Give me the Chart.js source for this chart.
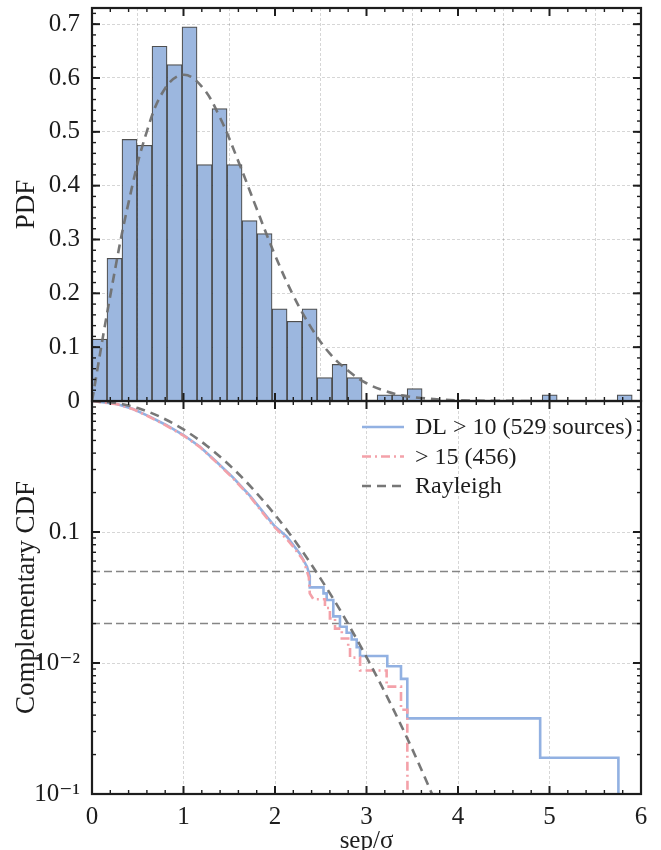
<!DOCTYPE html>
<html lang="en">
<head>
  <meta charset="UTF-8" />
  <title>Separation distribution</title>
  <script src="https://cdn.jsdelivr.net/npm/chart.js"></script>
  <style>
    body { margin: 0; background: #fff; }
    #wrap { position: relative; width: 661px; height: 850px; }
    canvas { position: absolute; left: 0; }
    #pdfChart { top: 0; z-index: 2; }
    #cdfChart { top: 381px; z-index: 1; }
  </style>
</head>
<body>
  <div id="wrap">
    <canvas id="pdfChart" width="661" height="420"></canvas>
    <canvas id="cdfChart" width="661" height="469"></canvas>
  </div>

  <script>
    // ---- data ----
    const xTicks = [0, 1, 2, 3, 4, 5, 6];
    const pdfTicks = [0, 0.1, 0.2, 0.3, 0.4, 0.5, 0.6, 0.7];
    const pdfTickLabels = ['0', '0.1', '0.2', '0.3', '0.4', '0.5', '0.6', '0.7'];
    const cdfTicks = [0.001, 0.01, 0.1, 1];
    const cdfTickLabels = ['10\u207B\u00B9', '10\u207B\u00B2', '0.1', ''];

    // histogram (36 bins of width 0.164 starting at 0)
    const binWidth = 0.164;
    const pdfValues = [0.115, 0.265, 0.486, 0.475, 0.659, 0.625, 0.695, 0.439, 0.543, 0.439,
                       0.335, 0.311, 0.171, 0.148, 0.171, 0.0435, 0.068, 0.0435, 0, 0.0115,
                       0.0115, 0.023, 0, 0, 0, 0, 0, 0, 0, 0,
                       0.0115, 0, 0, 0, 0, 0.0115];

    // Rayleigh curves
    const rayPdfX = [0, 0.2, 0.4, 0.6, 0.8, 1.0, 1.2, 1.4, 1.6, 1.8, 2.0, 2.2, 2.4, 2.6, 2.8, 3.0, 3.2, 3.4, 3.6, 3.8, 4.0, 4.4, 4.8];
    const rayPdfY = [0, 0.196, 0.369, 0.501, 0.581, 0.606, 0.584, 0.526, 0.445, 0.357, 0.271, 0.196, 0.135, 0.088, 0.056, 0.033, 0.019, 0.010, 0.0055, 0.0028, 0.0013, 0.0003, 0.0001];
    const rayCdfX = [0, 0.25, 0.5, 0.75, 1, 1.25, 1.5, 1.75, 2, 2.25, 2.5, 2.75, 3, 3.25, 3.5, 3.75, 4];
    const rayCdfY = [1, 0.969, 0.8825, 0.7548, 0.6065, 0.458, 0.3247, 0.2163, 0.1353, 0.0796, 0.0439, 0.0228, 0.0111, 0.0051, 0.0022, 0.00088, 0.00034];

    // complementary CDF, DL > 10
    const dl10X = [0, 0.27, 0.45, 0.63, 0.81, 1.0, 1.18, 1.36, 1.54, 1.73, 1.91, 2.0, 2.13, 2.27, 2.35,
                   2.38, 2.38, 2.53, 2.53, 2.565, 2.565, 2.637, 2.637, 2.71, 2.71, 2.783, 2.783, 2.838, 2.838,
                   2.893, 2.893, 2.929, 2.929, 3.227, 3.227, 3.377, 3.377, 3.446, 3.446, 4.898, 4.898, 5.753, 5.753];
    const dl10Y = [1, 0.949, 0.869, 0.76, 0.656, 0.55, 0.448, 0.344, 0.261, 0.188, 0.131, 0.11, 0.092, 0.0687, 0.0543,
                   0.046, 0.0378, 0.0378, 0.034, 0.034, 0.0303, 0.0303, 0.0227, 0.0227, 0.0189, 0.0189, 0.017, 0.017, 0.0151,
                   0.0151, 0.0132, 0.0132, 0.0113, 0.0113, 0.00945, 0.00945, 0.00756, 0.00756, 0.00378, 0.00378, 0.00189, 0.00189, 0.0005];

    // complementary CDF, DL > 15
    const dl15X = [0, 0.27, 0.45, 0.63, 0.81, 1.0, 1.18, 1.36, 1.54, 1.73, 1.91, 2.0, 2.13, 2.2, 2.31, 2.346,
                   2.37, 2.38, 2.42, 2.546, 2.546, 2.60, 2.60, 2.656, 2.656, 2.73, 2.73, 2.80, 2.80, 2.82, 2.82,
                   2.93, 2.93, 3.22, 3.22, 3.377, 3.377, 3.446, 3.446, 3.45];
    const dl15Y = [1, 0.947, 0.866, 0.755, 0.65, 0.545, 0.445, 0.34, 0.258, 0.185, 0.128, 0.108, 0.088, 0.077, 0.061, 0.051,
                   0.045, 0.034, 0.0307, 0.0307, 0.0263, 0.0263, 0.0219, 0.0219, 0.0183, 0.0183, 0.0154, 0.0154, 0.0132, 0.0132, 0.011,
                   0.011, 0.00877, 0.00877, 0.0066, 0.0066, 0.0044, 0.0044, 0.0022, 0.0005];

    const thresholds = [0.05, 0.02];

    // ---- styling helpers ----
    const serif = "'Liberation Serif', 'DejaVu Serif', serif";
    const ink = '#1d1d1d';
    const gridColor = 'rgba(0,0,0,0.16)';

    const pts = (xs, ys) => xs.map((x, i) => ({ x: x, y: ys[i] }));

    function fixedTicks(values) {
      return scale => { scale.ticks = values.map(v => ({ value: v })); };
    }

    // frame + inward ticks on all four sides
    const frameTicks = {
      id: 'frameTicks',
      afterDraw(chart, args, opts) {
        const { ctx, chartArea: a, scales } = chart;
        const x = scales.x, y = scales.y;
        ctx.save();
        ctx.strokeStyle = ink;
        const seg = (x1, y1, x2, y2) => { ctx.beginPath(); ctx.moveTo(x1, y1); ctx.lineTo(x2, y2); ctx.stroke(); };
        const drawX = (vals, len, w) => {
          ctx.lineWidth = w;
          vals.forEach(v => {
            const p = x.getPixelForValue(v);
            if (p < a.left - 0.5 || p > a.right + 0.5) return;
            seg(p, a.bottom, p, a.bottom - len);
            seg(p, a.top, p, a.top + len);
          });
        };
        const drawY = (vals, len, w) => {
          ctx.lineWidth = w;
          vals.forEach(v => {
            const p = y.getPixelForValue(v);
            if (p < a.top - 0.5 || p > a.bottom + 0.5) return;
            seg(a.left, p, a.left + len, p);
            seg(a.right, p, a.right - len, p);
          });
        };
        drawX(opts.xMinor, 4, 1.4);
        drawX(xTicks, 8, 2);
        drawY(opts.yMinor, 4, 1.4);
        drawY(opts.yMajor, 8, 2);
        ctx.lineWidth = 2.2;
        ctx.strokeRect(a.left, a.top, a.right - a.left, a.bottom - a.top);
        ctx.restore();
      }
    };

    // legend drawn inside the plot area, top right
    const innerLegend = {
      id: 'innerLegend',
      afterDatasetsDraw(chart) {
        const { ctx, chartArea: a } = chart;
        const items = chart.data.datasets.filter(d => d.label);
        ctx.save();
        items.forEach((d, i) => {
          const yy = a.top + 26 + i * 29.5;
          const x0 = a.right - 279;
          ctx.strokeStyle = d.borderColor;
          ctx.lineWidth = d.borderWidth;
          ctx.setLineDash(d.borderDash || []);
          ctx.beginPath();
          ctx.moveTo(x0, yy);
          ctx.lineTo(x0 + 42, yy);
          ctx.stroke();
          ctx.setLineDash([]);
          ctx.fillStyle = ink;
          ctx.font = '24px ' + serif;
          ctx.textBaseline = 'middle';
          ctx.fillText(d.label, x0 + 53, yy + 1);
        });
        ctx.restore();
      }
    };

    const xMinor = [];
    for (let v = 0; v <= 6.001; v += 0.2) {
      if (Math.abs(v - Math.round(v)) > 0.01) xMinor.push(v);
    }
    const pdfMinor = [];
    for (let v = 0; v <= 0.73; v += 0.02) pdfMinor.push(v);
    const cdfMinor = [];
    [0.001, 0.01, 0.1].forEach(d => { for (let k = 2; k <= 9; k++) cdfMinor.push(k * d); });

    // ---- top panel: PDF ----
    new Chart(document.getElementById('pdfChart'), {
      data: {
        datasets: [
          {
            type: 'bar',
            data: pdfValues.map((v, i) => ({ x: (i + 0.5) * binWidth, y: v })),
            backgroundColor: '#9cb7df',
            borderColor: 'rgba(35,35,35,0.8)',
            borderWidth: 1.2,
            barPercentage: 1,
            categoryPercentage: 1,
            order: 2
          },
          {
            type: 'line',
            data: pts(rayPdfX, rayPdfY),
            borderColor: 'rgba(112,112,112,0.95)',
            borderWidth: 2.6,
            borderDash: [9, 6],
            pointRadius: 0,
            tension: 0.4,
            order: 1
          }
        ]
      },
      options: {
        responsive: false,
        animation: false,
        layout: { padding: { top: 8, right: 20, bottom: 19, left: 0 } },
        plugins: {
          legend: { display: false },
          tooltip: { enabled: false },
          frameTicks: { xMinor: xMinor, yMinor: pdfMinor, yMajor: pdfTicks }
        },
        scales: {
          x: {
            type: 'linear',
            min: 0,
            max: 6,
            offset: false,
            afterBuildTicks: fixedTicks(xTicks),
            ticks: { display: false },
            grid: { color: gridColor, drawTicks: false },
            border: { display: false, dash: [3, 2] },
            afterFit: s => { s.height = 0; s.paddingLeft = 0; s.paddingRight = 0; }
          },
          y: {
            min: 0,
            max: 0.73,
            afterBuildTicks: fixedTicks(pdfTicks),
            ticks: {
              color: ink,
              padding: 12,
              font: { family: serif, size: 25 },
              callback: (v, i) => pdfTickLabels[i]
            },
            grid: { color: gridColor, drawTicks: false },
            border: { display: false, dash: [3, 2] },
            title: { display: true, text: 'PDF', color: ink, font: { family: serif, size: 27 }, padding: { top: 11, bottom: 0 } },
            afterFit: s => { s.width = 92; s.paddingTop = 0; s.paddingBottom = 0; }
          }
        }
      },
      plugins: [frameTicks]
    });

    // ---- bottom panel: complementary CDF ----
    new Chart(document.getElementById('cdfChart'), {
      type: 'line',
      data: {
        datasets: [
          {
            label: 'DL > 10 (529 sources)',
            data: pts(dl10X, dl10Y),
            borderColor: '#92b1e2',
            borderWidth: 2.6,
            pointRadius: 0,
            tension: 0,
            order: 3
          },
          {
            label: '> 15 (456)',
            data: pts(dl15X, dl15Y),
            borderColor: '#f4a1a9',
            borderWidth: 2.6,
            borderDash: [9, 4, 2, 4],
            pointRadius: 0,
            tension: 0,
            order: 2
          },
          {
            label: 'Rayleigh',
            data: pts(rayCdfX, rayCdfY),
            borderColor: 'rgba(112,112,112,0.95)',
            borderWidth: 2.6,
            borderDash: [9, 6],
            pointRadius: 0,
            cubicInterpolationMode: 'monotone',
            order: 1
          },
          ...thresholds.map(t => ({
            data: [{ x: 0, y: t }, { x: 6, y: t }],
            borderColor: 'rgba(120,120,120,0.9)',
            borderWidth: 1.4,
            borderDash: [8, 4],
            pointRadius: 0,
            order: 4
          }))
        ]
      },
      options: {
        responsive: false,
        animation: false,
        layout: { padding: { top: 20, right: 20, bottom: 0, left: 0 } },
        plugins: {
          legend: { display: false },
          tooltip: { enabled: false },
          frameTicks: { xMinor: xMinor, yMinor: cdfMinor, yMajor: cdfTicks }
        },
        scales: {
          x: {
            type: 'linear',
            min: 0,
            max: 6,
            afterBuildTicks: fixedTicks(xTicks),
            ticks: {
              color: ink,
              padding: 8,
              maxRotation: 0,
              font: { family: serif, size: 25 },
              callback: v => String(v)
            },
            grid: { color: gridColor, drawTicks: false },
            border: { display: false, dash: [3, 2] },
            title: { display: true, text: 'sep/\u03C3', color: ink, font: { family: serif, size: 25, lineHeight: 0.65 }, padding: { top: 0, bottom: 0 } },
            afterFit: s => { s.height = 56; s.paddingLeft = 0; s.paddingRight = 0; }
          },
          y: {
            type: 'logarithmic',
            min: 0.001,
            max: 1,
            afterBuildTicks: fixedTicks(cdfTicks),
            ticks: {
              color: ink,
              padding: 12,
              autoSkip: false,
              font: { family: serif, size: 25 },
              callback: (v, i) => cdfTickLabels[i]
            },
            grid: { color: gridColor, drawTicks: false },
            border: { display: false, dash: [3, 2] },
            title: { display: true, text: 'Complementary CDF', color: ink, font: { family: serif, size: 27 }, padding: { top: 11, bottom: 0 } },
            afterFit: s => { s.width = 92; s.paddingTop = 0; s.paddingBottom = 0; }
          }
        }
      },
      plugins: [frameTicks, innerLegend]
    });
  </script>
</body>
</html>
